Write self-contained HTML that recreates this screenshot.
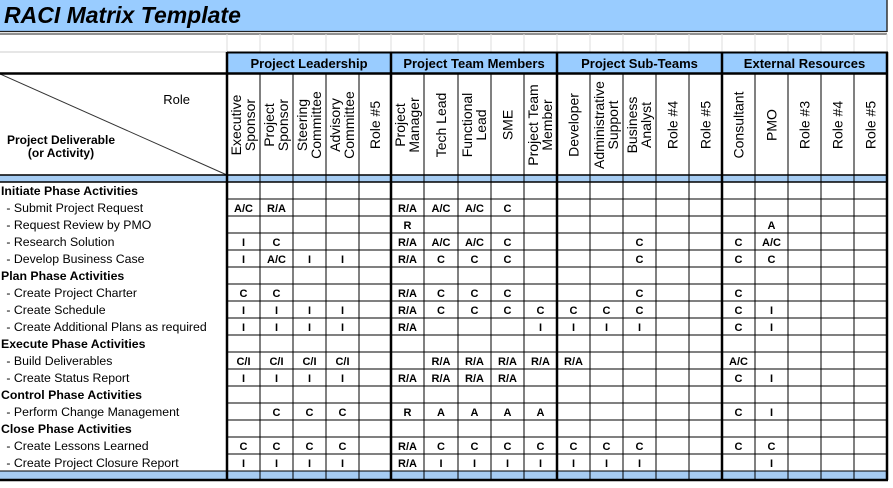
<!DOCTYPE html>
<html><head><meta charset="utf-8"><style>
html,body{margin:0;padding:0;background:#fff;width:893px;height:488px;overflow:hidden}
svg{display:block;font-family:"Liberation Sans",Arial,sans-serif}
</style></head><body>
<svg id="s" width="893" height="488" xmlns="http://www.w3.org/2000/svg"></svg>
<script>
const X=[227,260,293,326,359,391,424,458,491,524,557,590,623,656,689,722,755,788,821,854,887];
const G=[227,391,557,722,887];
let o='';
o+='<rect x="0" y="0" width="887" height="31" fill="#99ccff"/>';
o+='<line x1="887" y1="0" x2="887" y2="32" stroke="#333" stroke-width="1.5"/>';
o+='<line x1="0" y1="31.5" x2="887" y2="31.5" stroke="#222" stroke-width="1.2"/>';
o+='<line x1="0" y1="34" x2="887" y2="34" stroke="#222" stroke-width="1"/>';
o+='<text x="4" y="23" font-size="23" font-weight="bold" font-style="italic" fill="#000">RACI Matrix Template</text>';
o+='<line x1="0" y1="52" x2="227" y2="52" stroke="#ccc"/>';
for(const x of X)o+=`<line x1="${x}" y1="34" x2="${x}" y2="52" stroke="#ddd"/>`;
o+='<rect x="227" y="52" width="660" height="21" fill="#99ccff"/>';
const gn=["Project Leadership","Project Team Members","Project Sub-Teams","External Resources"];
for(let i=0;i<4;i++)o+=`<text x="${(G[i]+G[i+1])/2}" y="68" font-size="13" font-weight="bold" text-anchor="middle">${gn[i]}</text>`;
o+='<rect x="0" y="175" width="887" height="7" fill="#a6ccf2"/>';
o+='<rect x="0" y="471" width="887" height="8" fill="#a6ccf2"/>';
o+='<line x1="0" y1="74" x2="227" y2="175" stroke="#333" stroke-width="1"/>';
o+='<text x="190" y="104" font-size="13" text-anchor="end">Role</text>';
o+='<text x="61" y="144" font-size="12" font-weight="bold" text-anchor="middle">Project Deliverable</text>';
o+='<text x="61" y="157" font-size="12" font-weight="bold" text-anchor="middle">(or Activity)</text>';
const H=[["Executive","Sponsor"],["Project","Sponsor"],["Steering","Committee"],["Advisory","Committee"],["Role #5"],["Project","Manager"],["Tech Lead"],["Functional","Lead"],["SME"],["Project Team","Member"],["Developer"],["Administrative","Support"],["Business","Analyst"],["Role #4"],["Role #5"],["Consultant"],["PMO"],["Role #3"],["Role #4"],["Role #5"]];
H.forEach((h,i)=>{const cx=(X[i]+X[i+1])/2;
 o+=`<g transform="translate(${cx},125) rotate(-90)">`;
 if(h.length==1)o+=`<text x="0" y="5" font-size="14" text-anchor="middle">${h[0]}</text>`;
 else o+=`<text x="0" y="-2.5" font-size="14" text-anchor="middle">${h[0]}</text><text x="0" y="11.5" font-size="14" text-anchor="middle">${h[1]}</text>`;
 o+='</g>';});
const rows=[
["Initiate Phase Activities",1,{}],
[" - Submit Project Request",0,{0:"A/C",1:"R/A",5:"R/A",6:"A/C",7:"A/C",8:"C"}],
[" - Request Review by PMO",0,{5:"R",16:"A"}],
[" - Research Solution",0,{0:"I",1:"C",5:"R/A",6:"A/C",7:"A/C",8:"C",12:"C",15:"C",16:"A/C"}],
[" - Develop Business Case",0,{0:"I",1:"A/C",2:"I",3:"I",5:"R/A",6:"C",7:"C",8:"C",12:"C",15:"C",16:"C"}],
["Plan Phase Activities",1,{}],
[" - Create Project Charter",0,{0:"C",1:"C",5:"R/A",6:"C",7:"C",8:"C",12:"C",15:"C"}],
[" - Create Schedule",0,{0:"I",1:"I",2:"I",3:"I",5:"R/A",6:"C",7:"C",8:"C",9:"C",10:"C",11:"C",12:"C",15:"C",16:"I"}],
[" - Create Additional Plans as required",0,{0:"I",1:"I",2:"I",3:"I",5:"R/A",9:"I",10:"I",11:"I",12:"I",15:"C",16:"I"}],
["Execute Phase Activities",1,{}],
[" - Build Deliverables",0,{0:"C/I",1:"C/I",2:"C/I",3:"C/I",6:"R/A",7:"R/A",8:"R/A",9:"R/A",10:"R/A",15:"A/C"}],
[" - Create Status Report",0,{0:"I",1:"I",2:"I",3:"I",5:"R/A",6:"R/A",7:"R/A",8:"R/A",15:"C",16:"I"}],
["Control Phase Activities",1,{}],
[" - Perform Change Management",0,{1:"C",2:"C",3:"C",5:"R",6:"A",7:"A",8:"A",9:"A",15:"C",16:"I"}],
["Close Phase Activities",1,{}],
[" - Create Lessons Learned",0,{0:"C",1:"C",2:"C",3:"C",5:"R/A",6:"C",7:"C",8:"C",9:"C",10:"C",11:"C",12:"C",15:"C",16:"C"}],
[" - Create Project Closure Report",0,{0:"I",1:"I",2:"I",3:"I",5:"R/A",6:"I",7:"I",8:"I",9:"I",10:"I",11:"I",12:"I",16:"I"}]];
rows.forEach((r,i)=>{const t=182+17*i,b=t+13;
 o+=`<text x="${r[1]?1:3}" y="${b}" font-size="12.3" ${r[1]?'font-weight="bold"':''}>${r[0].replace(/^ /,'\u00a0')}</text>`;
 for(const k in r[2]){const cx=(X[k]+X[+k+1])/2;o+=`<text x="${cx}" y="${b}" font-size="11" font-weight="bold" text-anchor="middle">${r[2][k]}</text>`;}
 o+=`<line x1="227" y1="${t+17}" x2="887" y2="${t+17}" stroke="#000" stroke-width="1"/>`;
});
for(const x of X){const thick=G.includes(x);o+=`<line x1="${x}" y1="${thick?52:73}" x2="${x}" y2="480" stroke="#000" stroke-width="${thick?2.5:1}"/>`;}
o+='<line x1="227" y1="52.5" x2="888" y2="52.5" stroke="#000" stroke-width="2"/>';
o+='<line x1="0" y1="73.5" x2="888" y2="73.5" stroke="#000" stroke-width="2.5"/>';
o+='<line x1="0" y1="175" x2="887" y2="175" stroke="#000" stroke-width="1.5"/>';
o+='<line x1="0" y1="182" x2="887" y2="182" stroke="#000" stroke-width="1.5"/>';
o+='<line x1="0" y1="471" x2="887" y2="471" stroke="#000" stroke-width="1"/>';
o+='<line x1="0" y1="480" x2="888" y2="480" stroke="#000" stroke-width="2.5"/>';
document.getElementById('s').innerHTML=o;
</script>
</body></html>
